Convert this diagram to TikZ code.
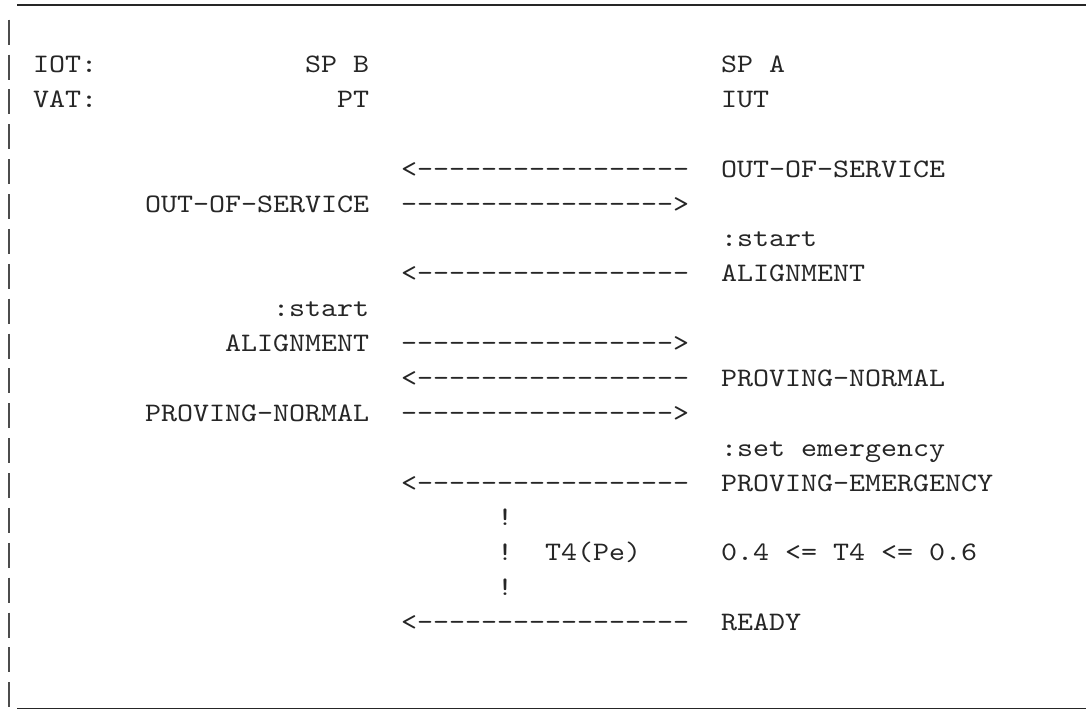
\documentclass[tikz,border=0pt]{standalone}
\usepackage{fontspec}
\setmonofont{lmmono10-regular.otf}[FakeStretch=1.1429]
\tikzset{
  txt/.style={anchor=base west, inner sep=0pt, outer sep=0pt, text=black!85,
    font=\ttfamily\fontsize{26.67}{34.875}\selectfont},
  rule/.style={draw=black!85, line width=1.5pt},
  bar/.style={draw=black!70, line width=2.6pt}
}
\newcommand\cellat[4]{\node[txt] (#1) at ({1+16*#2},{-(72.5+34.875*(#3-2))}) {#4};}
\begin{document}
\begin{tikzpicture}[x=1pt,y=1pt]
\useasboundingbox (0,0) rectangle (1086,-710);
% frame
\coordinate (tl) at (17,-5);
\coordinate (tr) at (1086,-5);
\coordinate (bl) at (17,-708.5);
\coordinate (br) at (1086,-708.5);
\draw[rule] (tl) -- (tr);
\draw[rule] (bl) -- (br);
\foreach \r in {1,...,20} {
  \coordinate (b\r t) at (9,{-(72.5+34.875*(\r-2))+18});
  \coordinate (b\r b) at (9,{-(72.5+34.875*(\r-2))-7});
  \draw[bar] (b\r t) -- (b\r b);
}
% header
\cellat{iot}{2}{2}{IOT:}
\cellat{spb}{19}{2}{SP B}
\cellat{spa}{45}{2}{SP A}
\cellat{vat}{2}{3}{VAT:}
\cellat{pt}{21}{3}{PT}
\cellat{iut}{45}{3}{IUT}
% messages
\cellat{a1}{25}{5}{<-----------------}
\cellat{r1}{45}{5}{OUT-OF-SERVICE}
\cellat{l1}{9}{6}{OUT-OF-SERVICE}
\cellat{a2}{25}{6}{----------------->}
\cellat{r2}{45}{7}{:start}
\cellat{a3}{25}{8}{<-----------------}
\cellat{r3}{45}{8}{ALIGNMENT}
\cellat{l2}{17}{9}{:start}
\cellat{l3}{14}{10}{ALIGNMENT}
\cellat{a4}{25}{10}{----------------->}
\cellat{a5}{25}{11}{<-----------------}
\cellat{r4}{45}{11}{PROVING-NORMAL}
\cellat{l4}{9}{12}{PROVING-NORMAL}
\cellat{a6}{25}{12}{----------------->}
\cellat{r5}{45}{13}{:set emergency}
\cellat{a7}{25}{14}{<-----------------}
\cellat{r6}{45}{14}{PROVING-EMERGENCY}
\cellat{x1}{31}{15}{!}
\cellat{x2}{31}{16}{!}
\cellat{t4}{34}{16}{T4(Pe)}
\cellat{rng}{45}{16}{0.4 <= T4 <= 0.6}
\cellat{x3}{31}{17}{!}
\cellat{a8}{25}{18}{<-----------------}
\cellat{r7}{45}{18}{READY}
\end{tikzpicture}
\end{document}
